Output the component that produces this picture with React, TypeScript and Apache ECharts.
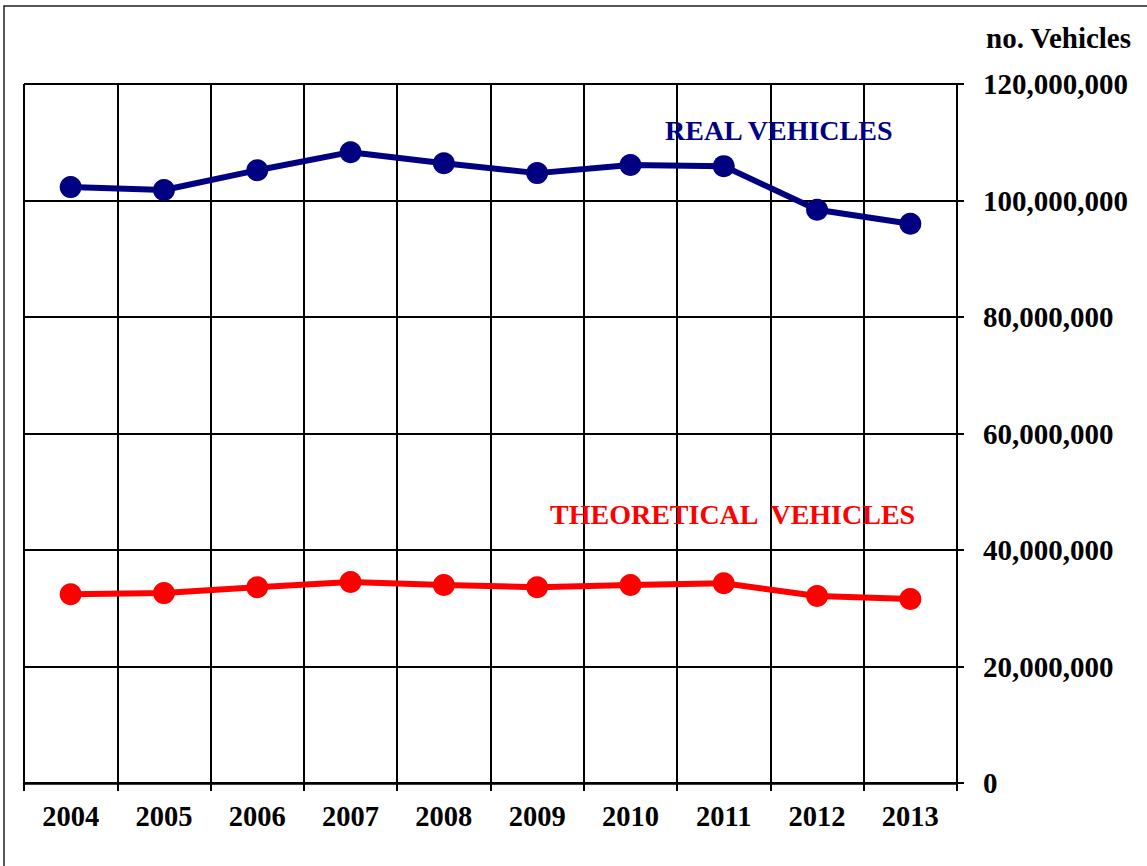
import React, { useEffect, useRef } from "react";
import * as echarts from "echarts";

const years = ["2004", "2005", "2006", "2007", "2008", "2009", "2010", "2011", "2012", "2013"];
const realVehicles = [102300000, 101800000, 105200000, 108300000, 106400000, 104700000, 106100000, 105900000, 98400000, 96000000];
const theoreticalVehicles = [32400000, 32600000, 33600000, 34500000, 34000000, 33600000, 34000000, 34300000, 32100000, 31600000];
const yTicks = { min: 0, max: 120000000, interval: 20000000 };
const axisTitle = "no. Vehicles";
const realLabel = "REAL VEHICLES";
const theoLabel = "THEORETICAL  VEHICLES";

const FONT = "'Liberation Serif', 'Times New Roman', serif";

function fmt(v: number): string {
  return v.toString().replace(/\B(?=(\d{3})+(?!\d))/g, ",");
}

export default function App() {
  const ref = useRef<HTMLDivElement>(null);
  useEffect(() => {
    document.body.style.margin = "0";
    if (!ref.current) return;
    const chart = echarts.init(ref.current, null, { renderer: "svg" });
    chart.setOption({
      animation: false,
      backgroundColor: "#ffffff",
      grid: { left: 24, top: 84, right: 190, bottom: 83, containLabel: false },
      xAxis: {
        type: "category",
        data: years,
        boundaryGap: true,
        axisLine: { show: true, lineStyle: { color: "#000", width: 2.5 } },
        axisTick: { show: true, length: 8, lineStyle: { color: "#000", width: 2 } },
        axisLabel: {
          color: "#000",
          fontFamily: FONT,
          fontWeight: "bold",
          fontSize: 28.5,
          margin: 19,
        },
        splitLine: { show: true, lineStyle: { color: "#000", width: 2 } },
      },
      yAxis: {
        type: "value",
        position: "right",
        min: yTicks.min,
        max: yTicks.max,
        interval: yTicks.interval,
        axisLine: { show: true, lineStyle: { color: "#000", width: 2 } },
        axisTick: { show: true, length: 7, lineStyle: { color: "#000", width: 2 } },
        axisLabel: {
          color: "#000",
          fontFamily: FONT,
          fontWeight: "bold",
          fontSize: 29,
          margin: 26,
          align: "left",
          formatter: (v: number) => fmt(v),
        },
        splitLine: { show: true, lineStyle: { color: "#000", width: 2 } },
      },
      series: [
        {
          name: realLabel,
          type: "line",
          data: realVehicles,
          symbol: "circle",
          symbolSize: 22,
          itemStyle: { color: "#000080" },
          lineStyle: { color: "#000080", width: 6 },
          z: 5,
        },
        {
          name: theoLabel,
          type: "line",
          data: theoreticalVehicles,
          symbol: "circle",
          symbolSize: 22,
          itemStyle: { color: "#ff0000" },
          lineStyle: { color: "#ff0000", width: 6 },
          z: 5,
        },
      ],
      graphic: [
        {
          type: "rect",
          shape: { x: 4, y: 6, width: 1150, height: 870 },
          style: { fill: "none", stroke: "#222", lineWidth: 1.5 },
          silent: true,
        },
        {
          type: "text",
          x: 986,
          y: 38,
          style: {
            text: axisTitle,
            fill: "#000",
            font: `bold 29px ${FONT}`,
            textAlign: "left",
            textVerticalAlign: "middle",
          },
        },
        {
          type: "text",
          x: 665,
          y: 130,
          z: 10,
          style: {
            text: realLabel,
            fill: "#000080",
            font: `bold 28px ${FONT}`,
            textAlign: "left",
            textVerticalAlign: "middle",
          },
        },
        {
          type: "text",
          x: 550,
          y: 514,
          z: 10,
          style: {
            text: theoLabel,
            fill: "#ff0000",
            font: `bold 28px ${FONT}`,
            textAlign: "left",
            textVerticalAlign: "middle",
          },
        },
      ],
    });
    return () => chart.dispose();
  }, []);
  return <div ref={ref} style={{ width: 1147, height: 866 }} />;
}
